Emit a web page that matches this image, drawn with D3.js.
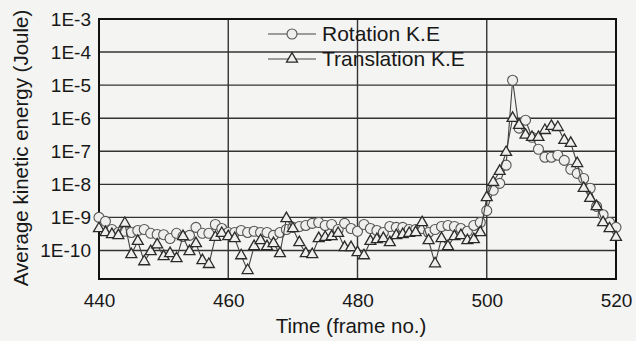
<!DOCTYPE html>
<html>
<head>
<meta charset="utf-8">
<script src="https://cdn.jsdelivr.net/npm/d3@7"></script>
<style>
  html, body { margin: 0; padding: 0; background: #f4f4f2; }
  svg { display: block; font-family: "Liberation Sans", Arial, sans-serif; }
</style>
</head>
<body>
<div id="chart"></div>
<script>
const frames = [
  440, 441, 442, 443, 444, 445, 446, 447, 448, 449,
  450, 451, 452, 453, 454, 455, 456, 457, 458, 459,
  460, 461, 462, 463, 464, 465, 466, 467, 468, 469,
  470, 471, 472, 473, 474, 475, 476, 477, 478, 479,
  480, 481, 482, 483, 484, 485, 486, 487, 488, 489,
  490, 491, 492, 493, 494, 495, 496, 497, 498, 499,
  500, 501, 502, 503, 504, 505, 506, 507, 508, 509,
  510, 511, 512, 513, 514, 515, 516, 517, 518, 519, 520
];

// rotation K.E (Joule)
const rotation = [
  1.0e-9, 7.6e-10, 4.3e-10, 3.5e-10, 3.8e-10, 3.5e-10, 4.0e-10, 4.3e-10, 3.3e-10, 3.05e-10,
  3.0e-10, 2.3e-10, 3.3e-10, 2.65e-10, 2.85e-10, 5.0e-10, 3.3e-10, 3.3e-10, 6.1e-10, 4.6e-10,
  3.5e-10, 3.5e-10, 4.0e-10, 3.5e-10, 3.8e-10, 3.5e-10, 3.5e-10, 2.85e-10, 3.5e-10, 4.3e-10,
  5.0e-10, 5.3e-10, 5.7e-10, 6.6e-10, 7.0e-10, 5.7e-10, 6.1e-10, 4.3e-10, 6.6e-10, 4.6e-10,
  3.8e-10, 6.1e-10, 4.6e-10, 4.0e-10, 3.5e-10, 5.3e-10, 5.0e-10, 5.0e-10, 4.3e-10, 4.3e-10,
  4.6e-10, 3.5e-10, 4.3e-10, 5.3e-10, 5.7e-10, 5.3e-10, 4.6e-10, 3.8e-10, 5.7e-10, 7.0e-10,
  1.6e-9, 6.6e-9, 1.07e-8, 3.8e-8, 1.4e-5, 5.0e-7, 8.7e-7, 2.65e-7, 1.15e-7, 6.6e-8,
  6.6e-8, 7.6e-8, 5.3e-8, 2.85e-8, 2.15e-8, 1.5e-8, 7.6e-9, 2.15e-9, 1.2e-9, 7.0e-10, 5.0e-10
];

// translation K.E (Joule)
const translation = [
  4.6e-10, 3.5e-10, 3.05e-10, 2.85e-10, 6.6e-10, 7.6e-11, 1.9e-10, 4.6e-11, 9.3e-11, 1.5e-10,
  6.6e-11, 8.1e-11, 5.7e-11, 2.65e-10, 9.3e-11, 1.63e-10, 5.0e-11, 3.8e-11, 2.5e-10, 3.3e-10,
  2.65e-10, 2.3e-10, 7.0e-11, 2.5e-11, 1.32e-10, 2.0e-10, 1.32e-10, 1.63e-10, 8.1e-11, 9.3e-10,
  4.6e-10, 1.75e-10, 8.1e-11, 7.6e-11, 2.3e-10, 2.5e-10, 2.65e-10, 3.3e-10, 1.23e-10, 1.23e-10,
  8.7e-11, 7.0e-11, 1.9e-10, 2.15e-10, 2.3e-10, 1.75e-10, 2.85e-10, 3.05e-10, 3.3e-10, 3.5e-10,
  7.0e-10, 2.0e-10, 4.0e-11, 2.3e-10, 1.32e-10, 2.65e-10, 2.85e-10, 2.0e-10, 2.15e-10, 3.5e-10,
  4.0e-9, 1.15e-8, 2.5e-8, 9.3e-8, 1.0e-6, 6.1e-7, 3.1e-7, 2.65e-7, 2.65e-7, 4.3e-7,
  5.7e-7, 5.3e-7, 2.15e-7, 1.75e-7, 4.3e-8, 7.6e-9, 3.8e-9, 2.15e-9, 7.0e-10, 4.6e-10, 2.5e-10
];

const xTicks = [440, 460, 480, 500, 520];
const yTicks = [1e-3, 1e-4, 1e-5, 1e-6, 1e-7, 1e-8, 1e-9, 1e-10];
const yTickLabels = ["1E-3", "1E-4", "1E-5", "1E-6", "1E-7", "1E-8", "1E-9", "1E-10"];
const seriesNames = ["Rotation K.E", "Translation K.E"];

const width = 636;
const height = 341;
const plot = { left: 99, right: 616, top: 19, bottom: 279 };
const ink = "#181818";

const svg = d3.select("#chart").append("svg")
  .attr("width", width)
  .attr("height", height);

const x = d3.scaleLinear()
  .domain([440, 520])
  .range([plot.left, plot.right]);

const y = d3.scaleLog()
  .domain([1.37e-11, 1e-3])
  .range([plot.bottom, plot.top]);

// grid
svg.append("g")
  .selectAll("line.h")
  .data(yTicks.slice(1))
  .enter().append("line")
  .attr("x1", plot.left).attr("x2", plot.right)
  .attr("y1", d => y(d)).attr("y2", d => y(d))
  .attr("stroke", "#333")
  .attr("stroke-width", 1.4);

svg.append("g")
  .selectAll("line.v")
  .data(xTicks.slice(1, -1))
  .enter().append("line")
  .attr("x1", d => x(d)).attr("x2", d => x(d))
  .attr("y1", plot.top).attr("y2", plot.bottom)
  .attr("stroke", "#333")
  .attr("stroke-width", 1.4);

// frame
svg.append("rect")
  .attr("x", plot.left).attr("y", plot.top)
  .attr("width", plot.right - plot.left)
  .attr("height", plot.bottom - plot.top)
  .attr("fill", "none")
  .attr("stroke", "#111")
  .attr("stroke-width", 2);

// axes
const xAxis = d3.axisBottom(x).tickValues(xTicks).tickSize(0).tickPadding(15).tickFormat(d3.format("d"));
const gx = svg.append("g")
  .attr("transform", `translate(0,${plot.bottom})`)
  .call(xAxis);
gx.select(".domain").remove();
gx.selectAll("text").attr("font-size", 19).attr("fill", ink).attr("font-family", "Liberation Sans, Arial, sans-serif");

const yAxis = d3.axisLeft(y).tickValues(yTicks).tickSize(0).tickPadding(8)
  .tickFormat((d, i) => yTickLabels[i]);
const gy = svg.append("g")
  .attr("transform", `translate(${plot.left},0)`)
  .call(yAxis);
gy.select(".domain").remove();
gy.selectAll("text").attr("font-size", 19).attr("fill", ink).attr("font-family", "Liberation Sans, Arial, sans-serif");

// titles
svg.append("text")
  .attr("x", 351).attr("y", 333)
  .attr("text-anchor", "middle")
  .attr("font-size", 20.5)
  .attr("fill", ink)
  .text("Time (frame no.)");

svg.append("text")
  .attr("transform", "translate(28,148) rotate(-90)")
  .attr("text-anchor", "middle")
  .attr("font-size", 20.5)
  .attr("fill", ink)
  .text("Average kinetic energy (Joule)");

// series
const line = d3.line()
  .x(d => x(d[0]))
  .y(d => y(d[1]));

const triangle = d3.symbol().type(d3.symbolTriangle).size(52);

function drawSeries(values, kind) {
  const pts = frames.map((f, i) => [f, values[i]]);
  svg.append("path")
    .datum(pts)
    .attr("fill", "none")
    .attr("stroke", "#444")
    .attr("stroke-width", 1.1)
    .attr("d", line);
  const g = svg.append("g");
  if (kind === "circle") {
    g.selectAll("circle")
      .data(pts)
      .enter().append("circle")
      .attr("cx", d => x(d[0]))
      .attr("cy", d => y(d[1]))
      .attr("r", 5)
      .attr("fill", "#efefed")
      .attr("stroke", "#555")
      .attr("stroke-width", 1.1);
  } else {
    g.selectAll("path")
      .data(pts)
      .enter().append("path")
      .attr("transform", d => `translate(${x(d[0])},${y(d[1])})`)
      .attr("d", triangle)
      .attr("fill", "#efefed")
      .attr("stroke", "#2a2a2a")
      .attr("stroke-width", 1.3);
  }
}

drawSeries(rotation, "circle");
drawSeries(translation, "triangle");

// legend
const legendRows = [
  { name: seriesNames[0], kind: "circle", y: 34 },
  { name: seriesNames[1], kind: "triangle", y: 59 }
];
legendRows.forEach(r => {
  svg.append("line")
    .attr("x1", 268).attr("x2", 316)
    .attr("y1", r.y).attr("y2", r.y)
    .attr("stroke", "#444")
    .attr("stroke-width", 1.1);
  if (r.kind === "circle") {
    svg.append("circle")
      .attr("cx", 292).attr("cy", r.y).attr("r", 5)
      .attr("fill", "#efefed").attr("stroke", "#555").attr("stroke-width", 1.1);
  } else {
    svg.append("path")
      .attr("transform", `translate(292,${r.y})`)
      .attr("d", triangle)
      .attr("fill", "#efefed").attr("stroke", "#2a2a2a").attr("stroke-width", 1.3);
  }
  svg.append("text")
    .attr("x", 322).attr("y", r.y)
    .attr("dy", "0.35em")
    .attr("font-size", 21)
    .attr("fill", ink)
    .text(r.name);
});
</script>
</body>
</html>
